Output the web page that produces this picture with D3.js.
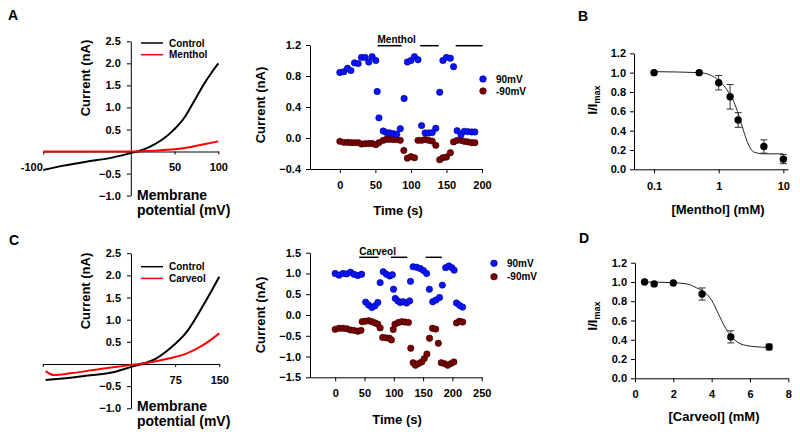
<!DOCTYPE html>
<html>
<head>
<meta charset="utf-8">
<script src="https://cdn.jsdelivr.net/npm/d3@7"></script>
<style>
  body { margin: 0; background: #fff; }
  svg text { font-family: "Liberation Sans", Arial, sans-serif; font-weight: bold; fill: #000; }
</style>
</head>
<body>
<svg width="800" height="435"></svg>
<script>
// ---- data ----

// IV ramps (mV, nA)
const ivMentholControl = [[-100,-0.42],[-77,-0.32],[-51,-0.23],[-24,-0.15],[-1,-0.04],[14,0.04],[26,0.15],[38,0.30],[49,0.49],[61,0.76],[72,1.13],[83,1.51],[93,1.81],[100,2.0]]
const ivMentholDrug = [[-100,0.0],[-50,0.0],[0,0.0],[25,0.02],[50,0.05],[65,0.09],[75,0.13],[88,0.18],[100,0.23]]
const ivCarveolControl = [[-145,-0.36],[-103,-0.31],[-74,-0.26],[-35,-0.20],[2,-0.06],[21,0.01],[38,0.09],[66,0.35],[95,0.73],[123,1.33],[150,1.97]]
const ivCarveolDrug = [[-145,-0.16],[-131,-0.25],[-103,-0.21],[-47,-0.10],[2,-0.02],[38,0.05],[66,0.13],[95,0.24],[123,0.43],[150,0.69]]

// time courses (s, nA)
const mentholPos90 = [[0,0.846],[5.6,0.855],[10.8,0.90],[15.5,0.87],[20.6,0.97],[25.8,0.96],[30.4,1.04],[35.6,1.04],[40.7,0.98],[45.4,1.05],[50.6,1.0],[52.5,0.60],[55,0.26],[61,0.09],[65.6,0.07],[70,0.065],[75,0.056],[80,0.05],[85,0.12],[90.4,0.51],[95,0.98],[100,1.0],[105,1.05],[110,1.01],[115,0.16],[120,0.065],[125,0.065],[130,0.07],[135,0.125],[140.5,0.59],[145,1.0],[150,1.04],[155.5,1.03],[160,0.92],[165,0.095],[170.5,0.043],[175,0.086],[180,0.082],[185.5,0.078],[190,0.078]]
const mentholNeg90 = [[0,-0.043],[5.6,-0.056],[10.8,-0.056],[15.5,-0.06],[20.6,-0.06],[25.8,-0.06],[30.4,-0.078],[35.6,-0.074],[40.7,-0.07],[45.4,-0.07],[50.6,-0.086],[55,-0.06],[61,-0.03],[65.6,-0.017],[70,-0.017],[75,-0.02],[80,-0.02],[85,-0.03],[90,-0.16],[95,-0.26],[100,-0.24],[105,-0.255],[110,-0.03],[115,-0.03],[120,-0.02],[125,-0.03],[130,-0.04],[135,-0.095],[140.5,-0.28],[145,-0.255],[150,-0.246],[155.5,-0.19],[160,-0.05],[165,-0.03],[170.5,-0.03],[175,-0.043],[180,-0.05],[185.5,-0.06],[190,-0.06]]
const mentholBars = [[53,87],[113,139],[163,201]]

const carveolPos90 = [[0,1.0],[6.5,0.96],[13,1.0],[19.5,0.99],[26,1.03],[32,0.98],[38.5,0.95],[45,0.98],[52,0.31],[57,0.24],[62.5,0.18],[68,0.22],[72.7,0.30],[76.7,0.78],[82,1.04],[87.5,0.98],[93,0.94],[97.5,0.97],[99.5,0.62],[102.5,0.40],[107,0.34],[111,0.30],[116,0.32],[122,0.29],[127,0.34],[128.5,0.81],[133,1.16],[139,1.15],[145,1.12],[150.5,1.07],[156,1.0],[160.7,0.62],[166.4,0.32],[172,0.36],[178,0.42],[182.8,0.72],[188.5,1.14],[194,1.18],[199,1.14],[203,1.08],[207,0.29],[212.5,0.23],[217.5,0.19]]
const carveolNeg90 = [[0,-0.345],[6.5,-0.32],[13,-0.32],[19.5,-0.33],[26,-0.36],[32,-0.37],[38.5,-0.39],[44,-0.37],[46,-0.16],[51,-0.15],[57,-0.14],[62.5,-0.16],[68,-0.19],[72.7,-0.22],[76.7,-0.31],[81,-0.54],[87,-0.55],[92.6,-0.56],[96,-0.60],[99,-0.35],[102,-0.22],[108,-0.18],[113.6,-0.16],[119,-0.17],[125,-0.18],[129,-0.80],[133,-1.15],[137,-1.21],[142,-1.17],[147.7,-1.13],[152,-1.05],[156.5,-0.94],[161,-0.56],[166,-0.32],[171.5,-0.34],[176,-0.68],[181,-1.15],[186.5,-1.17],[192,-1.21],[197.5,-1.17],[202.5,-1.13],[207,-0.19],[212,-0.15],[217.5,-0.17]]
const carveolBars = [[41,74],[95,123],[154.5,182]]

// concentration-response (mM, I/Imax)
const mentholConc = [0.1, 0.5, 1, 1.5, 2, 5, 10]
const mentholMean = [1.0, 1.0, 0.896, 0.75, 0.51, 0.236, 0.105]
const mentholErr  = [0, 0, 0.075, 0.127, 0.076, 0.069, 0.047]
const mentholFit  = [[0.1,1.01],[0.5,1.0],[0.74,0.975],[1,0.92],[1.35,0.82],[1.71,0.70],[2.04,0.56],[2.44,0.39],[2.91,0.25],[3.48,0.18],[4.97,0.16],[10,0.16]]

const carveolConc = [0.5, 1, 2, 3.5, 5, 7]
const carveolMean = [1.0, 0.98, 0.99, 0.875, 0.43, 0.325]
const carveolErr  = [0, 0, 0, 0.063, 0.063, 0.03]
const carveolFit  = [[0.5,1.0],[2.0,0.992],[2.7,0.98],[3.2,0.94],[3.65,0.89],[4.0,0.81],[4.35,0.67],[4.7,0.53],[5.05,0.43],[5.48,0.36],[6.17,0.33],[7.05,0.32]]

// ---- drawing ----
const svg = d3.select('svg')
svg.append('rect').attr('width', 800).attr('height', 435).attr('fill', '#fff')

var styleAxis = function(g) {
  g.selectAll('path.domain').attr('stroke', '#000').attr('stroke-width', 1)
  g.selectAll('.tick line').attr('stroke', '#000')
  g.selectAll('.tick text').attr('font-size', 11).attr('font-family', null).style('font-weight', 'bold')
}

var panelLetter = function(txt, x, y) {
  svg.append('text').attr('x', x).attr('y', y).attr('font-size', 14).text(txt)
}

var yTitle = function(txt, x, y) {
  svg.append('text').attr('transform', `translate(${x},${y}) rotate(-90)`)
    .attr('text-anchor', 'middle').attr('font-size', 13).text(txt)
}

// IV panels
var drawIV = function(o) {
  const x = o.x, y = o.y
  const yAx = svg.append('g').attr('transform', `translate(${x(0)},0)`)
    .call(d3.axisLeft(y).tickValues(o.yTicks).tickFormat(d3.format('.1f')).tickSize(4).tickSizeOuter(0).tickPadding(6))
  styleAxis(yAx)
  const xAx = svg.append('g').attr('transform', `translate(0,${y(0)})`)
    .call(d3.axisBottom(x).tickValues(o.xTicks).tickFormat(o.xFormat).tickSize(3).tickSizeOuter(0).tickPadding(9))
  styleAxis(xAx)
  xAx.selectAll('.tick text').filter(d => d < 0).attr('text-anchor', 'end').attr('dx', '-1')

  const line = d3.line().x(d => x(d[0])).y(d => y(d[1])).curve(d3.curveMonotoneX)
  svg.append('path').datum(o.control).attr('d', line).attr('fill', 'none').attr('stroke', '#000').attr('stroke-width', 2)
  svg.append('path').datum(o.drug).attr('d', line).attr('fill', 'none').attr('stroke', '#ff0000').attr('stroke-width', 2)

  o.legend.forEach(function(l, i) {
    const ly = o.legendY + i * 11.7
    svg.append('line').attr('x1', 141).attr('x2', 163).attr('y1', ly).attr('y2', ly)
      .attr('stroke', l.color).attr('stroke-width', 1.5)
    svg.append('text').attr('x', 169).attr('y', ly + 3.5).attr('font-size', 10).text(l.name)
  })

  yTitle('Current (nA)', 90, o.yTitleY)
  svg.append('text').attr('x', 137).attr('y', o.xTitleY).attr('font-size', 14).text('Membrane')
  svg.append('text').attr('x', 137).attr('y', o.xTitleY + 15).attr('font-size', 14).text('potential (mV)')
}

drawIV({
  x: d3.scaleLinear().domain([-100, 100]).range([43.3, 218.3]),
  y: d3.scaleLinear().domain([-1, 2.5]).range([195.6, 41.3]),
  yTicks: [-1, -0.5, 0.5, 1, 1.5, 2, 2.5],
  xTicks: [-100, 50, 100], xFormat: d => d,
  control: ivMentholControl, drug: ivMentholDrug,
  legend: [{name: 'Control', color: '#000'}, {name: 'Menthol', color: '#ff0000'}],
  legendY: 43, yTitleY: 78, xTitleY: 200
})

drawIV({
  x: d3.scaleLinear().domain([-150, 150]).range([42.7, 219.3]),
  y: d3.scaleLinear().domain([-1, 2.5]).range([408.3, 253.2]),
  yTicks: [-1, -0.5, 0.5, 1, 1.5, 2, 2.5],
  xTicks: [-150, 75, 150], xFormat: d => d < 0 ? '' : d,
  control: ivCarveolControl, drug: ivCarveolDrug,
  legend: [{name: 'Control', color: '#000'}, {name: 'Carveol', color: '#ff0000'}],
  legendY: 266.7, yTitleY: 291, xTitleY: 411
})

// time course panels
var drawTime = function(o) {
  const x = o.x, y = o.y
  const yAx = svg.append('g').attr('transform', `translate(${o.x.range()[0]},0)`)
    .call(d3.axisLeft(y).tickValues(o.yTicks).tickFormat(d3.format('.1f')).tickSize(4).tickSizeOuter(0).tickPadding(5))
  styleAxis(yAx)
  const xAx = svg.append('g').attr('transform', `translate(0,${y.range()[0]})`)
    .call(d3.axisBottom(x).tickValues(o.xTicks).tickFormat(d => d).tickSize(4).tickSizeOuter(0).tickPadding(8))
  styleAxis(xAx)

  svg.append('g').selectAll('circle').data(o.neg).enter().append('circle')
    .attr('cx', d => x(d[0])).attr('cy', d => y(d[1])).attr('r', 3.2)
    .attr('fill', '#7b0000').attr('stroke', '#2a0000').attr('stroke-width', 0.6)
  svg.append('g').selectAll('circle').data(o.pos).enter().append('circle')
    .attr('cx', d => x(d[0])).attr('cy', d => y(d[1])).attr('r', 3.2)
    .attr('fill', '#0a14ff').attr('stroke', '#00007a').attr('stroke-width', 0.6)

  // application bars
  svg.append('g').selectAll('line').data(o.bars).enter().append('line')
    .attr('x1', d => x(d[0])).attr('x2', d => x(d[1]))
    .attr('y1', o.barY).attr('y2', o.barY).attr('stroke', '#000').attr('stroke-width', 1.5)
  svg.append('text').attr('x', x(o.bars[0][0])).attr('y', o.barY - 2.5).attr('font-size', 10).text(o.drugName)

  // legend
  const leg = [{name: '90mV', fill: '#0a14ff', stroke: '#00007a'}, {name: '-90mV', fill: '#7b0000', stroke: '#2a0000'}]
  leg.forEach(function(l, i) {
    const ly = o.legendY + i * o.legendStep
    svg.append('circle').attr('cx', o.legendX).attr('cy', ly).attr('r', 3.3)
      .attr('fill', l.fill).attr('stroke', l.stroke).attr('stroke-width', 0.6)
    svg.append('text').attr('x', o.legendX + 13).attr('y', ly + 3.5).attr('font-size', 10).text(l.name)
  })

  yTitle('Current (nA)', 265, o.yTitleY)
  svg.append('text').attr('x', o.xTitleX).attr('y', o.xTitleY).attr('text-anchor', 'middle')
    .attr('font-size', 13).text('Time (s)')
}

drawTime({
  x: d3.scaleLinear().domain([-42, 200]).range([310, 482]),
  y: d3.scaleLinear().domain([-0.4, 1.2]).range([169, 45]),
  yTicks: [-0.4, 0, 0.4, 0.8, 1.2], xTicks: [0, 50, 100, 150, 200],
  pos: mentholPos90, neg: mentholNeg90, bars: mentholBars, barY: 45.7, drugName: 'Menthol',
  legendX: 483, legendY: 79, legendStep: 12,
  yTitleY: 105, xTitleX: 398, xTitleY: 215
})

drawTime({
  x: d3.scaleLinear().domain([-43, 250]).range([310, 481.7]),
  y: d3.scaleLinear().domain([-1.5, 1.5]).range([377.3, 252.7]),
  yTicks: [-1.5, -1, -0.5, 0, 0.5, 1, 1.5], xTicks: [0, 50, 100, 150, 200, 250],
  pos: carveolPos90, neg: carveolNeg90, bars: carveolBars, barY: 257.3, drugName: 'Carveol',
  legendX: 494, legendY: 263.3, legendStep: 13.4,
  yTitleY: 315, xTitleX: 397, xTitleY: 424
})

// concentration-response panels
var drawDose = function(o) {
  const x = o.x, y = o.y
  const yAx = svg.append('g').attr('transform', `translate(${x.range()[0]},0)`)
    .call(d3.axisLeft(y).tickValues([0, 0.2, 0.4, 0.6, 0.8, 1.0, 1.2]).tickFormat(d3.format('.1f')).tickSize(4).tickSizeOuter(0).tickPadding(4))
  styleAxis(yAx)
  const xAx = svg.append('g').attr('transform', `translate(0,${y(0)})`)
    .call(d3.axisBottom(x).tickValues(o.xTicks).tickFormat(d => d).tickSize(4).tickSizeOuter(0).tickPadding(o.xPad))
  styleAxis(xAx)

  const line = d3.line().x(d => x(d[0])).y(d => y(d[1])).curve(d3.curveMonotoneX)
  svg.append('path').datum(o.fit).attr('d', line).attr('fill', 'none').attr('stroke', '#222').attr('stroke-width', 1)

  const pts = o.conc.map((c, i) => ({c: c, m: o.mean[i], e: o.err[i]}))
  const eb = svg.append('g').attr('stroke', '#333').attr('stroke-width', 1)
  pts.filter(d => d.e > 0).forEach(function(d) {
    const cx = x(d.c)
    eb.append('line').attr('x1', cx).attr('x2', cx).attr('y1', y(d.m - d.e)).attr('y2', y(d.m + d.e))
    eb.append('line').attr('x1', cx - 3.5).attr('x2', cx + 3.5).attr('y1', y(d.m - d.e)).attr('y2', y(d.m - d.e))
    eb.append('line').attr('x1', cx - 3.5).attr('x2', cx + 3.5).attr('y1', y(d.m + d.e)).attr('y2', y(d.m + d.e))
  })
  svg.append('g').selectAll('circle').data(pts).enter().append('circle')
    .attr('cx', d => x(d.c)).attr('cy', d => y(d.m)).attr('r', 3.7).attr('fill', '#000')

  const t = svg.append('text').attr('transform', `translate(597,${o.yTitleY}) rotate(-90)`)
    .attr('text-anchor', 'middle').attr('font-size', 13)
  t.append('tspan').text('I/I')
  t.append('tspan').attr('font-size', 9).attr('dy', 3).text('max')

  svg.append('text').attr('x', o.xTitleX).attr('y', o.xTitleY).attr('text-anchor', 'middle')
    .attr('font-size', 13).text(o.xTitle)
}

drawDose({
  x: d3.scaleLog().domain([0.049, 11.8]).range([634, 788]),
  y: d3.scaleLinear().domain([0, 1.2]).range([169.3, 53.3]),
  xTicks: [0.1, 1, 10], xPad: 9,
  conc: mentholConc, mean: mentholMean, err: mentholErr, fit: mentholFit,
  yTitleY: 100, xTitle: '[Menthol] (mM)', xTitleX: 718, xTitleY: 214
})

drawDose({
  x: d3.scaleLinear().domain([0, 8]).range([635, 788.3]),
  y: d3.scaleLinear().domain([0, 1.2]).range([378.3, 262.7]),
  xTicks: [0, 2, 4, 6, 8], xPad: 8,
  conc: carveolConc, mean: carveolMean, err: carveolErr, fit: carveolFit,
  yTitleY: 316, xTitle: '[Carveol] (mM)', xTitleX: 714, xTitleY: 421
})

panelLetter('A', 8, 20)
panelLetter('B', 578, 21)
panelLetter('C', 9, 245)
panelLetter('D', 579, 243)
</script>
</body>
</html>
